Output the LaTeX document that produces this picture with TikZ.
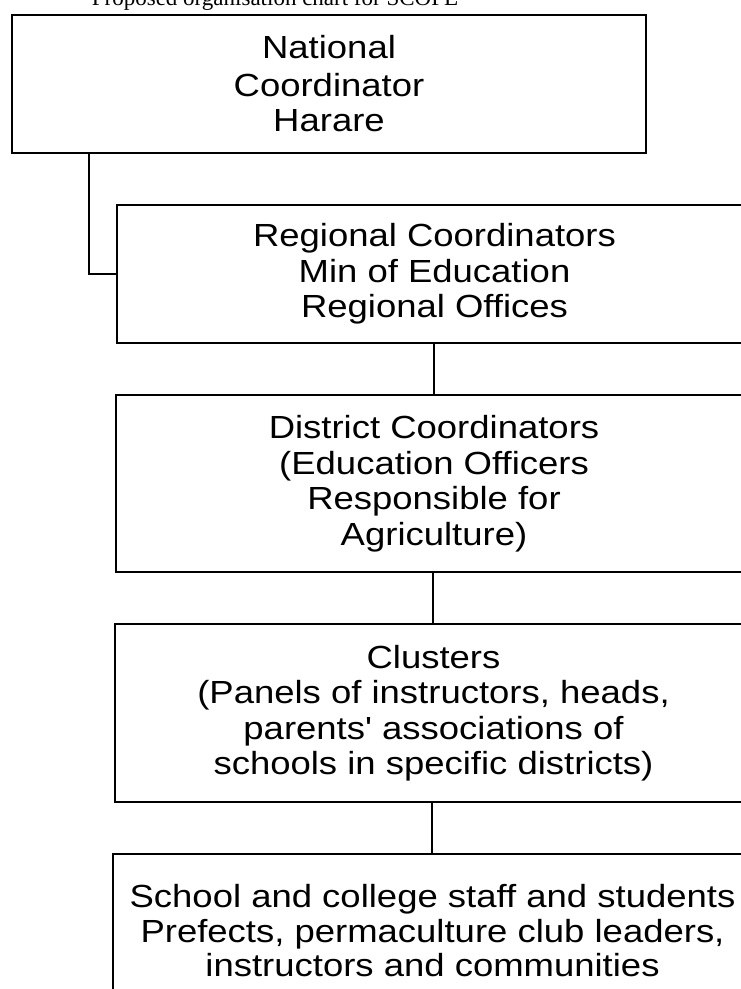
\documentclass[tikz,border=0pt]{standalone}
\usepackage{fontspec}
\setmainfont{Liberation Sans}
\newfontfamily\chartfamily{Liberation Sans}[FakeStretch=1.14]
\newfontfamily\captionfamily{Liberation Serif}
\newcommand\chartfont{\chartfamily\fontsize{32}{35.5}\selectfont}
\newcommand\closechartfont{\chartfamily\fontsize{32}{34.5}\selectfont}
\newcommand\captionfont{\captionfamily\fontsize{23}{27}\selectfont}
% extra depth under the last line of a box, lifting its text block
\newcommand\liftstrut[1]{\rule[-#1]{0pt}{#1}}
\begin{document}
\begin{tikzpicture}[x=1pt,y=-1pt,
  orgbox/.style={draw, line width=1.8pt, rectangle, inner sep=0pt,
    align=center, font=\chartfont},
  link/.style={draw, line width=1.5pt}]
\useasboundingbox (0,0) rectangle (741,989);
\clip (0,0) rectangle (741,989);

% caption above the chart
\node[font=\captionfont, anchor=base, inner sep=0pt] (caption) at (275,5)
  {Proposed organisation chart for SCOPE};

% the levels of the organisation
\node[orgbox, minimum width=634pt, minimum height=138pt] (nat) at (329,84)
  {\raisebox{2pt}{National}\\Coordinator\\Harare};
\node[orgbox, minimum width=635pt, minimum height=138pt] (reg) at (434.5,274)
  {Regional Coordinators\\Min of Education\\Regional Offices};
\node[orgbox, minimum width=636pt, minimum height=177pt] (dist) at (434,483.5)
  {District Coordinators\\(Education Officers\\Responsible for\\Agriculture)};
\node[orgbox, minimum width=637pt, minimum height=178pt] (clus) at (433.5,713)
  {Clusters\\(Panels of instructors, heads,\\parents' associations of\\schools in specific districts)};
\node[orgbox, minimum width=639pt, minimum height=178pt, font=\closechartfont] (school) at (432.5,943)
  {School and college staff and students\\Prefects, permaculture club leaders,\\instructors and communities\liftstrut{24.5pt}};

% reporting lines
\draw[link] (nat.south -| 89,0) |- (reg.west);
\draw[link] (434,0 |- reg.south) -- (434,0 |- dist.north);
\draw[link] (433,0 |- dist.south) -- (433,0 |- clus.north);
\draw[link] (432,0 |- clus.south) -- (432,0 |- school.north);
\end{tikzpicture}
\end{document}
